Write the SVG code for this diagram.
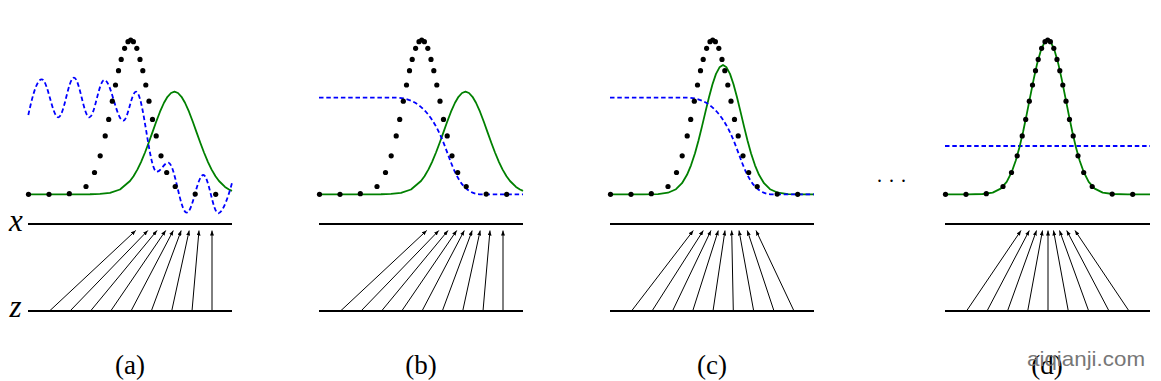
<svg xmlns="http://www.w3.org/2000/svg" width="1161" height="381" viewBox="0 0 1161 381">
<defs>
<style>
.axis{stroke:#000;stroke-width:2.2;fill:none}
.arr{stroke:#000;stroke-width:1;fill:none;marker-end:url(#ah)}
.pg{fill:none;stroke:#008000;stroke-width:1.8;stroke-linejoin:round}
.disc{fill:none;stroke:#0000ff;stroke-width:1.8;stroke-dasharray:4.5 2.8}
.dots circle{fill:#000}
.lbl{font-family:"Liberation Serif",serif;font-size:27px;fill:#000}
.var{font-family:"Liberation Serif",serif;font-style:italic;font-size:31px;fill:#000}
.wm{font-family:"Liberation Sans",sans-serif;font-size:21px;fill:#777}
</style>
<marker id="ah" viewBox="0 0 5 4" markerWidth="5" markerHeight="4" refX="5" refY="2" orient="auto" markerUnits="userSpaceOnUse">
<path d="M0,0 L5,2 L0,4 z" fill="#000"/>
</marker>
</defs>
<rect width="1161" height="381" fill="#fff"/>

<text class="var" x="9" y="230.5">x</text>
<text class="var" x="9.5" y="316.7">z</text>

<!-- Panel (a) -->
<g id="panel-a">
<line class="axis" x1="28" y1="224" x2="232" y2="224"/>
<line class="axis" x1="28" y1="311" x2="232" y2="311"/>
<path class="pg" d="M28,194.3 L90,194.24 L100,193.97 L110,192.9 L120,189.5 L130,181 L133.5,176.2 L137.5,169.4 L141,162.1 L145,152.5 L148.5,143.3 L152.5,132.1 L156,122.3 L160,111.7 L164,102.75 L167.5,96.8 L171,93 L174.5,91.7 L178,93 L181.5,96.8 L185,102.75 L189,111.7 L193,122.3 L196.5,132.1 L200.5,143.3 L204,152.5 L208,162.1 L211.5,169.4 L215.5,176.2 L219,181 L225,186.9 L229,189.5 L232,190.9"/>
<path class="disc" d="M28.3,115 C31,103 36,79.3 41.7,79.3 C47.7,79.3 52.3,117.3 58.3,117.3 C64,117.3 68.3,77.7 74,77.7 C79.5,77.7 83.8,117.3 89.3,117.3 C94.7,117.3 98.9,80 104.3,80 C111.1,80 116.5,120.7 123.3,120.7 C127.9,120.7 131.4,91.7 136,91.7 C143.5,91.7 149.2,171.7 156.7,171.7 C160.9,171.7 164.1,162.7 168.3,162.7 C174.9,162.7 180.1,212.7 186.7,212.7 C192.7,212.7 197.3,175 203.3,175 C208.7,175 212.9,213.3 218.3,213.3 C223,213.3 229.5,193 232.3,181.7"/>
<g class="dots">
<circle cx="28.5" cy="194.3" r="2.6"/><circle cx="49" cy="194.3" r="2.6"/><circle cx="69.3" cy="193.7" r="2.6"/><circle cx="86" cy="186.5" r="2.6"/><circle cx="94.5" cy="172.5" r="2.6"/><circle cx="100.2" cy="155.8" r="2.6"/><circle cx="105.2" cy="135.9" r="2.6"/><circle cx="108.7" cy="119.4" r="2.6"/><circle cx="112.3" cy="101.2" r="2.6"/><circle cx="115.5" cy="85" r="2.6"/><circle cx="118.5" cy="70.7" r="2.6"/><circle cx="121.2" cy="59.4" r="2.6"/><circle cx="124.6" cy="48.3" r="2.6"/><circle cx="128" cy="41.7" r="2.6"/><circle cx="130.7" cy="40" r="2.6"/><circle cx="133.4" cy="41.7" r="2.6"/><circle cx="136.8" cy="48.3" r="2.6"/><circle cx="140" cy="59.4" r="2.6"/><circle cx="142.8" cy="70.7" r="2.6"/><circle cx="145.8" cy="85" r="2.6"/><circle cx="149" cy="101.2" r="2.6"/><circle cx="152.5" cy="119.4" r="2.6"/><circle cx="156.2" cy="135.9" r="2.6"/><circle cx="161" cy="155.8" r="2.6"/><circle cx="166.7" cy="172.5" r="2.6"/><circle cx="175.2" cy="186.5" r="2.6"/><circle cx="195.2" cy="194.1" r="2.6"/><circle cx="215.7" cy="194.3" r="2.6"/>
</g>
<g id="mapping-a">
<line class="arr" x1="49.5" y1="311" x2="135.7" y2="230.5"/><line class="arr" x1="70" y1="311" x2="147.8" y2="230.5"/><line class="arr" x1="90.5" y1="311" x2="157" y2="230.5"/><line class="arr" x1="110.7" y1="311" x2="165.7" y2="230.5"/><line class="arr" x1="131" y1="311" x2="173.3" y2="230.5"/><line class="arr" x1="151.3" y1="311" x2="181.2" y2="230.5"/><line class="arr" x1="171.7" y1="311" x2="189.2" y2="230.5"/><line class="arr" x1="192" y1="311" x2="199" y2="230.5"/><line class="arr" x1="212" y1="311" x2="212" y2="230.5"/>
</g>
<text class="lbl" x="130" y="373.5" text-anchor="middle">(a)</text>
</g>

<!-- Panel (b) -->
<g id="panel-b" transform="translate(291,0)">
<line class="axis" x1="28" y1="224" x2="232" y2="224"/>
<line class="axis" x1="28" y1="311" x2="232" y2="311"/>
<path class="pg" d="M28,194.3 L90,194.24 L100,193.97 L110,192.9 L120,189.5 L130,181 L133.5,176.2 L137.5,169.4 L141,162.1 L145,152.5 L148.5,143.3 L152.5,132.1 L156,122.3 L160,111.7 L164,102.75 L167.5,96.8 L171,93 L174.5,91.7 L178,93 L181.5,96.8 L185,102.75 L189,111.7 L193,122.3 L196.5,132.1 L200.5,143.3 L204,152.5 L208,162.1 L211.5,169.4 L215.5,176.2 L219,181 L225,186.9 L229,189.5 L232,190.9"/>
<path class="disc" d="M28,97.7 L105,97.7 C130,97.7 144,119.8 154,146.5 C163,170.5 170,194.3 190,194.3 L232,194.3"/>
<g class="dots">
<circle cx="28.5" cy="194.3" r="2.6"/><circle cx="49" cy="194.3" r="2.6"/><circle cx="69.3" cy="193.7" r="2.6"/><circle cx="86" cy="186.5" r="2.6"/><circle cx="94.5" cy="172.5" r="2.6"/><circle cx="100.2" cy="155.8" r="2.6"/><circle cx="105.2" cy="135.9" r="2.6"/><circle cx="108.7" cy="119.4" r="2.6"/><circle cx="112.3" cy="101.2" r="2.6"/><circle cx="115.5" cy="85" r="2.6"/><circle cx="118.5" cy="70.7" r="2.6"/><circle cx="121.2" cy="59.4" r="2.6"/><circle cx="124.6" cy="48.3" r="2.6"/><circle cx="128" cy="41.7" r="2.6"/><circle cx="130.7" cy="40" r="2.6"/><circle cx="133.4" cy="41.7" r="2.6"/><circle cx="136.8" cy="48.3" r="2.6"/><circle cx="140" cy="59.4" r="2.6"/><circle cx="142.8" cy="70.7" r="2.6"/><circle cx="145.8" cy="85" r="2.6"/><circle cx="149" cy="101.2" r="2.6"/><circle cx="152.5" cy="119.4" r="2.6"/><circle cx="156.2" cy="135.9" r="2.6"/><circle cx="161" cy="155.8" r="2.6"/><circle cx="166.7" cy="172.5" r="2.6"/><circle cx="175.2" cy="186.5" r="2.6"/><circle cx="195.2" cy="194.1" r="2.6"/><circle cx="215.7" cy="194.3" r="2.6"/>
</g>
<g id="mapping-b">
<line class="arr" x1="49.5" y1="311" x2="135.7" y2="230.5"/><line class="arr" x1="70" y1="311" x2="147.8" y2="230.5"/><line class="arr" x1="90.5" y1="311" x2="157" y2="230.5"/><line class="arr" x1="110.7" y1="311" x2="165.7" y2="230.5"/><line class="arr" x1="131" y1="311" x2="173.3" y2="230.5"/><line class="arr" x1="151.3" y1="311" x2="181.2" y2="230.5"/><line class="arr" x1="171.7" y1="311" x2="189.2" y2="230.5"/><line class="arr" x1="192" y1="311" x2="199" y2="230.5"/><line class="arr" x1="212" y1="311" x2="212" y2="230.5"/>
</g>
<text class="lbl" x="130" y="373.5" text-anchor="middle">(b)</text>
</g>

<!-- Panel (c) -->
<g id="panel-c" transform="translate(582,0)">
<line class="axis" x1="28" y1="224" x2="232" y2="224"/>
<line class="axis" x1="28" y1="311" x2="232" y2="311"/>
<path class="pg" d="M28,194.3 L61,194.3 L76,194.03 L86,192.7 L94,189.2 L100,183.2 L105,174.8 L109,165.3 L113,153.2 L116.5,140.5 L120,126.4 L123.5,111.6 L127,97.2 L130.5,84.2 L134,73.9 L137.5,67.3 L141,65 L144.5,67.3 L148,73.9 L151.5,84.2 L155,97.2 L158.5,111.6 L162,126.4 L165.5,140.5 L169,153.2 L173,165.3 L177,174.8 L182,183.2 L188,189.2 L196,192.7 L206,194.03 L221,194.3 L232,194.3"/>
<path class="disc" d="M28,97.7 L105,97.7 C130,97.7 144,119.8 154,146.5 C163,170.5 170,194.3 190,194.3 L232,194.3"/>
<g class="dots">
<circle cx="28.5" cy="194.3" r="2.6"/><circle cx="49" cy="194.3" r="2.6"/><circle cx="69.3" cy="193.7" r="2.6"/><circle cx="86" cy="186.5" r="2.6"/><circle cx="94.5" cy="172.5" r="2.6"/><circle cx="100.2" cy="155.8" r="2.6"/><circle cx="105.2" cy="135.9" r="2.6"/><circle cx="108.7" cy="119.4" r="2.6"/><circle cx="112.3" cy="101.2" r="2.6"/><circle cx="115.5" cy="85" r="2.6"/><circle cx="118.5" cy="70.7" r="2.6"/><circle cx="121.2" cy="59.4" r="2.6"/><circle cx="124.6" cy="48.3" r="2.6"/><circle cx="128" cy="41.7" r="2.6"/><circle cx="130.7" cy="40" r="2.6"/><circle cx="133.4" cy="41.7" r="2.6"/><circle cx="136.8" cy="48.3" r="2.6"/><circle cx="140" cy="59.4" r="2.6"/><circle cx="142.8" cy="70.7" r="2.6"/><circle cx="145.8" cy="85" r="2.6"/><circle cx="149" cy="101.2" r="2.6"/><circle cx="152.5" cy="119.4" r="2.6"/><circle cx="156.2" cy="135.9" r="2.6"/><circle cx="161" cy="155.8" r="2.6"/><circle cx="166.7" cy="172.5" r="2.6"/><circle cx="175.2" cy="186.5" r="2.6"/><circle cx="195.2" cy="194.1" r="2.6"/><circle cx="215.7" cy="194.3" r="2.6"/>
</g>
<g id="mapping-c">
<line class="arr" x1="49.5" y1="311" x2="111.3" y2="230.5"/><line class="arr" x1="70" y1="311" x2="121.3" y2="230.5"/><line class="arr" x1="90.5" y1="311" x2="129" y2="230.5"/><line class="arr" x1="110.7" y1="311" x2="136.3" y2="230.5"/><line class="arr" x1="131" y1="311" x2="143" y2="230.5"/><line class="arr" x1="151.3" y1="311" x2="149.7" y2="230.5"/><line class="arr" x1="171.7" y1="311" x2="157" y2="230.5"/><line class="arr" x1="192" y1="311" x2="165.3" y2="230.5"/><line class="arr" x1="212" y1="311" x2="174" y2="230.5"/>
</g>
<text class="lbl" x="130" y="373.5" text-anchor="middle">(c)</text>
</g>

<text id="ellipsis" x="877" y="182" font-family="Liberation Serif, serif" font-size="20" letter-spacing="7">...</text>

<!-- Panel (d) -->
<g id="panel-d" transform="translate(917,0)">
<line class="axis" x1="28" y1="224" x2="233" y2="224"/>
<line class="axis" x1="28" y1="311" x2="233" y2="311"/>
<path class="disc" d="M28,146 L233,146"/>
<path class="pg" d="M28,194.3 L50.7,194.3 L65.7,194 L75.7,192.6 L83.7,188.6 L89.7,181.8 L94.7,172 L98.7,160.8 L102.7,146.4 L106.2,131.3 L109.7,114.4 L113.2,96.6 L116.7,79.1 L120.2,63.4 L123.7,50.9 L127.2,42.8 L130.7,40 L134.2,42.8 L137.7,50.9 L141.2,63.4 L144.7,79.1 L148.2,96.6 L151.7,114.4 L155.2,131.3 L158.7,146.4 L162.7,160.8 L166.7,172 L171.7,181.8 L177.7,188.6 L185.7,192.6 L195.7,194 L210.7,194.3 L233,194.3"/>
<g class="dots">
<circle cx="28.5" cy="194.3" r="2.6"/><circle cx="49" cy="194.3" r="2.6"/><circle cx="69.3" cy="193.7" r="2.6"/><circle cx="86" cy="186.5" r="2.6"/><circle cx="94.5" cy="172.5" r="2.6"/><circle cx="100.2" cy="155.8" r="2.6"/><circle cx="105.2" cy="135.9" r="2.6"/><circle cx="108.7" cy="119.4" r="2.6"/><circle cx="112.3" cy="101.2" r="2.6"/><circle cx="115.5" cy="85" r="2.6"/><circle cx="118.5" cy="70.7" r="2.6"/><circle cx="121.2" cy="59.4" r="2.6"/><circle cx="124.6" cy="48.3" r="2.6"/><circle cx="128" cy="41.7" r="2.6"/><circle cx="130.7" cy="40" r="2.6"/><circle cx="133.4" cy="41.7" r="2.6"/><circle cx="136.8" cy="48.3" r="2.6"/><circle cx="140" cy="59.4" r="2.6"/><circle cx="142.8" cy="70.7" r="2.6"/><circle cx="145.8" cy="85" r="2.6"/><circle cx="149" cy="101.2" r="2.6"/><circle cx="152.5" cy="119.4" r="2.6"/><circle cx="156.2" cy="135.9" r="2.6"/><circle cx="161" cy="155.8" r="2.6"/><circle cx="166.7" cy="172.5" r="2.6"/><circle cx="175.2" cy="186.5" r="2.6"/><circle cx="195.2" cy="194.1" r="2.6"/><circle cx="215.7" cy="194.3" r="2.6"/>
</g>
<g id="mapping-d">
<line class="arr" x1="49.5" y1="311" x2="104" y2="230.5"/><line class="arr" x1="70" y1="311" x2="112.3" y2="230.5"/><line class="arr" x1="90.5" y1="311" x2="119.5" y2="230.5"/><line class="arr" x1="110.7" y1="311" x2="125.5" y2="230.5"/><line class="arr" x1="131" y1="311" x2="131" y2="230.5"/><line class="arr" x1="151.3" y1="311" x2="136.5" y2="230.5"/><line class="arr" x1="171.7" y1="311" x2="142.5" y2="230.5"/><line class="arr" x1="192" y1="311" x2="149.7" y2="230.5"/><line class="arr" x1="212" y1="311" x2="158" y2="230.5"/>
</g>
<text class="lbl" x="130" y="373.5" text-anchor="middle">(d)</text>
</g>

<text class="wm" x="1027" y="366" textLength="118" lengthAdjust="spacingAndGlyphs">aiqianji.com</text>
</svg>
